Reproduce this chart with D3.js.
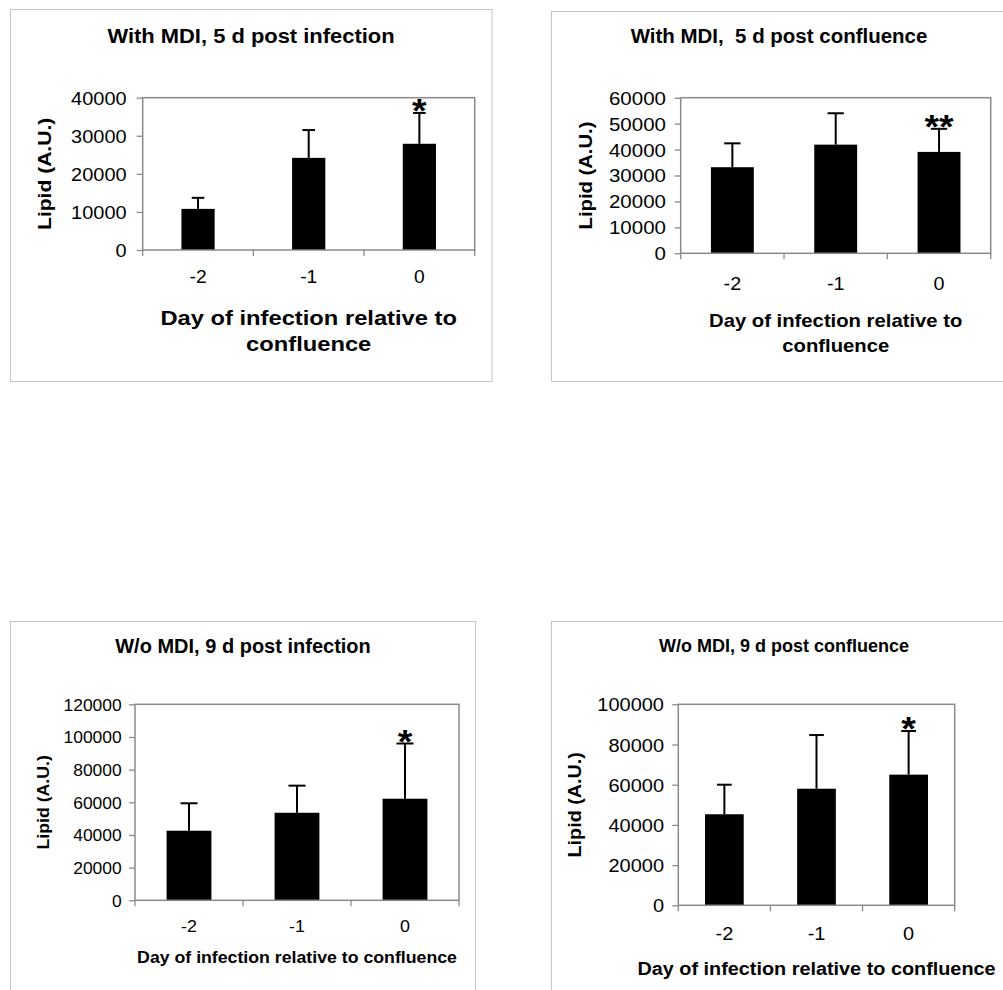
<!DOCTYPE html>
<html>
<head>
<meta charset="utf-8">
<script src="https://cdn.jsdelivr.net/npm/d3@7"></script>
<style>
  html, body { margin: 0; padding: 0; background: #fff; }
  svg { display: block; font-family: "Liberation Sans", Arial, Helvetica, sans-serif; }
  text { white-space: pre; }
</style>
</head>
<body>
<svg id="fig" width="1003" height="990"></svg>
<script>
// Day of infection relative to confluence
const days = ["-2", "-1", "0"];

// Panel titles
const titles = [
  "With MDI, 5 d post infection",
  "With MDI,  5 d post confluence",
  "W/o MDI, 9 d post infection",
  "W/o MDI, 9 d post confluence"
];

// Lipid (A.U.): mean and SD per day of infection
const meanMdi5dInf    = [10800, 24200, 27900];
const sdMdi5dInf      = [2900, 7300, 8100];
const meanMdi5dConf   = [33200, 41900, 39100];
const sdMdi5dConf     = [9200, 12100, 8900];
const meanNoMdi9dInf  = [42600, 53600, 62200];
const sdNoMdi9dInf    = [16800, 16600, 33800];
const meanNoMdi9dConf = [45300, 58000, 65000];
const sdNoMdi9dConf   = [14700, 26700, 21700];

// Significance marks
const sigMdi5dInf    = ["", "", "*"];
const sigMdi5dConf   = ["", "", "**"];
const sigNoMdi9dInf  = ["", "", "*"];
const sigNoMdi9dConf = ["", "", "*"];

// y-axis ticks
const ticksMdi5dInf    = [0, 10000, 20000, 30000, 40000];
const ticksMdi5dConf   = [0, 10000, 20000, 30000, 40000, 50000, 60000];
const ticksNoMdi9dInf  = [0, 20000, 40000, 60000, 80000, 100000, 120000];
const ticksNoMdi9dConf = [0, 20000, 40000, 60000, 80000, 100000];

// Axis titles
const yTitle = "Lipid (A.U.)";
const xTitleTwoLines = ["Day of infection relative to", "confluence"];
const xTitleOneLine = ["Day of infection relative to confluence"];

// Geometry and type settings for each panel (fs = font size, sx = horizontal glyph stretch)
const panels = [
  { mean: meanMdi5dInf, sd: sdMdi5dInf, sig: sigMdi5dInf, ticks: ticksMdi5dInf, title: titles[0],
    xTitle: xTitleTwoLines,
    frame: [10.5, 9.5, 492, 381.5], plot: { l: 142.7, t: 97.7, r: 474.7, b: 250 },
    titleCfg: { x: 251, y: 42.7, fs: 20.5, sx: 1.07 },
    ytick: { fs: 17.7, sx: 1.13, gap: 16 }, xtick: { fs: 17.5, sx: 1.1, dy: 33.3 },
    ytitle: { x: 50.5, fs: 18, sx: 1.17 },
    xtitleCfg: { fs: 21, sx: 1.13, y: [325, 351] },
    barRatio: 0.30 },
  { mean: meanMdi5dConf, sd: sdMdi5dConf, sig: sigMdi5dConf, ticks: ticksMdi5dConf, title: titles[1],
    xTitle: xTitleTwoLines,
    frame: [551.5, 11.5, 1007, 381.5], plot: { l: 680.7, t: 97.7, r: 990.7, b: 253.3 },
    titleCfg: { x: 779, y: 43.3, fs: 19.5, sx: 1.05 },
    ytick: { fs: 18, sx: 1.14, gap: 14.7 }, xtick: { fs: 18, sx: 1.1, dy: 36.7 },
    ytitle: { x: 592, fs: 17.5, sx: 1.157 },
    xtitleCfg: { fs: 18.6, sx: 1.09, y: [326.7, 352.3] },
    barRatio: 0.415 },
  { mean: meanNoMdi9dInf, sd: sdNoMdi9dInf, sig: sigNoMdi9dInf, ticks: ticksNoMdi9dInf, title: titles[2],
    xTitle: xTitleOneLine,
    frame: [10.5, 621.5, 475.5, 1000], plot: { l: 135, t: 704.3, r: 459, b: 900.3 },
    titleCfg: { x: 243, y: 652.7, fs: 19.5, sx: 1.026 },
    ytick: { fs: 16.3, sx: 1.07, gap: 13.3 }, xtick: { fs: 17, sx: 1.05, dy: 31.4 },
    ytitle: { x: 49, fs: 16, sx: 1.105 },
    xtitleCfg: { fs: 16.3, sx: 1.087, y: [963.3] },
    barRatio: 0.415 },
  { mean: meanNoMdi9dConf, sd: sdNoMdi9dConf, sig: sigNoMdi9dConf, ticks: ticksNoMdi9dConf, title: titles[3],
    xTitle: xTitleOneLine,
    frame: [551.5, 621.5, 1012, 1000], plot: { l: 678.3, t: 704.3, r: 954.7, b: 905.3 },
    titleCfg: { x: 784, y: 652.3, fs: 18, sx: 1.0 },
    ytick: { fs: 18.6, sx: 1.075, gap: 14.3 }, xtick: { fs: 19, sx: 1.05, dy: 34.7 },
    ytitle: { x: 581, fs: 17.5, sx: 1.13 },
    xtitleCfg: { fs: 18.6, sx: 1.067, y: [975] },
    barRatio: 0.42 }
];

const svg = d3.select("#fig");
const axisGrey = "#8a8a8a";
const frameGrey = "#c4c4c4";

// text placed at (x, y), optionally rotated, with glyphs widened along the reading direction
function label(g, x, y, str, o) {
  return g.append("text")
    .attr("transform", `translate(${x},${y}) rotate(${o.rotate || 0}) scale(${o.sx},1)`)
    .attr("text-anchor", o.anchor || "middle")
    .attr("dy", o.dy || null)
    .style("font-size", o.fs + "px")
    .style("font-weight", o.bold ? "bold" : "normal")
    .text(str);
}

panels.forEach(p => {
  const g = svg.append("g");
  const [fx0, fy0, fx1, fy1] = p.frame;

  // outer chart frame
  g.append("rect")
    .attr("x", fx0).attr("y", fy0)
    .attr("width", fx1 - fx0).attr("height", fy1 - fy0)
    .attr("fill", "none").attr("stroke", frameGrey).attr("stroke-width", 1);

  // title
  label(g, p.titleCfg.x, p.titleCfg.y, p.title, { fs: p.titleCfg.fs, sx: p.titleCfg.sx, bold: true });

  const pl = p.plot;
  const pad = 1 - p.barRatio;
  const x = d3.scaleBand().domain(days).range([pl.l, pl.r])
    .paddingInner(pad).paddingOuter(pad / 2);
  const y = d3.scaleLinear()
    .domain([p.ticks[0], p.ticks[p.ticks.length - 1]])
    .range([pl.b, pl.t]);

  // y axis: ticks and labels
  const yAxis = d3.axisLeft(y).tickValues(p.ticks).tickSize(6).tickSizeOuter(0)
    .tickFormat(d3.format("d"));
  const ya = g.append("g").attr("transform", `translate(${pl.l},0)`).call(yAxis);
  ya.select(".domain").remove();
  ya.selectAll(".tick line").attr("stroke", axisGrey).attr("stroke-width", 1.3);
  ya.selectAll(".tick text")
    .attr("x", 0)
    .attr("transform", `translate(${-p.ytick.gap},0) scale(${p.ytick.sx},1)`)
    .attr("dy", "0.36em")
    .attr("fill", "#000")
    .style("font-size", p.ytick.fs + "px")
    .style("font-family", "inherit");

  // x axis: ticks at category boundaries, labels at category centers
  const step = x.step();
  const boundaries = [pl.l].concat(days.map(d => x(d) + x.bandwidth() / 2 + step / 2));
  g.selectAll(null).data(boundaries).enter().append("line")
    .attr("x1", d => d).attr("x2", d => d)
    .attr("y1", pl.b).attr("y2", pl.b + 6)
    .attr("stroke", axisGrey).attr("stroke-width", 1.3);
  days.forEach(d => {
    label(g, x(d) + x.bandwidth() / 2, pl.b + p.xtick.dy, d, { fs: p.xtick.fs, sx: p.xtick.sx });
  });

  // bars
  const rows = days.map((d, i) => ({ day: d, mean: p.mean[i], sd: p.sd[i], sig: p.sig[i] }));
  g.selectAll(null).data(rows).enter().append("rect")
    .attr("x", d => x(d.day))
    .attr("y", d => y(d.mean))
    .attr("width", x.bandwidth())
    .attr("height", d => y(0) - y(d.mean))
    .attr("fill", "#000");

  // upper error bars
  const capW = x.bandwidth() * 0.38;
  const cx = d => x(d.day) + x.bandwidth() / 2;
  const eb = g.selectAll(null).data(rows).enter().append("g");
  eb.append("line")
    .attr("x1", cx).attr("x2", cx)
    .attr("y1", d => y(d.mean))
    .attr("y2", d => y(d.mean + d.sd))
    .attr("stroke", "#000").attr("stroke-width", 2);
  eb.append("line")
    .attr("x1", d => cx(d) - capW / 2)
    .attr("x2", d => cx(d) + capW / 2)
    .attr("y1", d => y(d.mean + d.sd))
    .attr("y2", d => y(d.mean + d.sd))
    .attr("stroke", "#000").attr("stroke-width", 2);

  // significance marks above error bars
  rows.filter(d => d.sig).forEach(d => {
    label(g, cx(d), y(d.mean + d.sd) + 9, d.sig, { fs: 34, sx: 1.1, bold: true });
  });

  // plot area border
  g.append("rect")
    .attr("x", pl.l).attr("y", pl.t)
    .attr("width", pl.r - pl.l).attr("height", pl.b - pl.t)
    .attr("fill", "none").attr("stroke", axisGrey).attr("stroke-width", 1.5);

  // y-axis title
  label(g, p.ytitle.x, (pl.t + pl.b) / 2, yTitle,
    { fs: p.ytitle.fs, sx: p.ytitle.sx, bold: true, rotate: -90 });

  // x-axis title
  p.xTitle.forEach((line, i) => {
    label(g, (pl.l + pl.r) / 2, p.xtitleCfg.y[i], line,
      { fs: p.xtitleCfg.fs, sx: p.xtitleCfg.sx, bold: true });
  });
});
</script>
</body>
</html>
